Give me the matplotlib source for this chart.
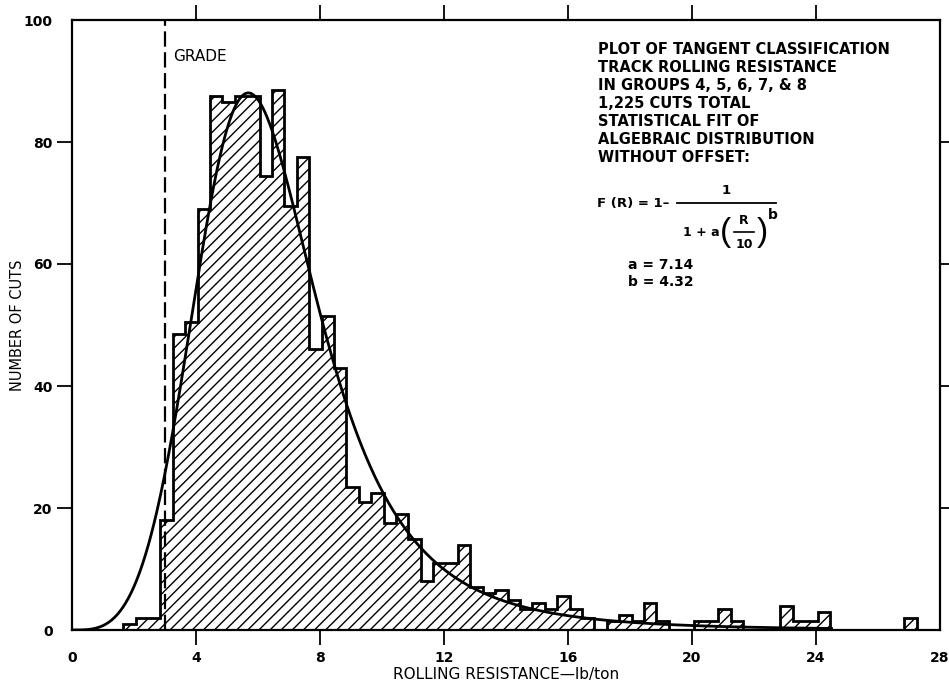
import numpy as np
import matplotlib
matplotlib.use("Agg")
import matplotlib.pyplot as plt
from matplotlib.lines import Line2D

# ---------------- data ----------------
FIRST_EDGE = 1.65      # left edge of first bin (lb/ton)
BIN_WIDTH = 0.4        # bin width (lb/ton)
counts = [1, 2, 2, 18, 48.5, 50.5, 69, 87.5, 86.5, 87.5,
          87.5, 74.5, 88.5, 69.5, 77.5, 46, 51.5, 43, 23.5, 21,
          22.5, 17.5, 19, 15, 8, 11, 11, 14, 7, 6,
          6.5, 5, 3.5, 4.5, 3.5, 5.5, 3.5, 2, 0, 1.5,
          2.5, 1.5, 4.5, 1.5, 0, 0, 1.5, 1.5, 3.5, 1.5,
          0, 0, 0, 4, 1.5, 1.5, 3, 0, 0, 0,
          0, 0, 0, 2]
x_ticks = [0, 4, 8, 12, 16, 20, 24, 28]
y_ticks = [0, 20, 40, 60, 80, 100]
GRADE_X = 3.0
A_PARAM = 7.14
B_PARAM = 4.32
N_CUTS = 1225
CURVE_END = 24.5
note_lines = ["PLOT OF TANGENT CLASSIFICATION",
              "TRACK ROLLING RESISTANCE",
              "IN GROUPS 4, 5, 6, 7, & 8",
              "1,225 CUTS TOTAL",
              "STATISTICAL FIT OF",
              "ALGEBRAIC DISTRIBUTION",
              "WITHOUT OFFSET:"]

# ---------------- style ----------------
plt.rcParams['font.family'] = ['DejaVu Sans']
plt.rcParams['hatch.linewidth'] = 1.0
plt.rcParams['lines.scale_dashes'] = False

W, H = 949, 687
fig = plt.figure(figsize=(W / 100, H / 100), dpi=100)


def fx(px):
    return px / W


def fy(py):
    return 1 - py / H


ax = fig.add_axes([fx(72), fy(630), (940 - 72) / W, (630 - 20) / H])

edges = FIRST_EDGE + BIN_WIDTH * np.arange(len(counts) + 1)
ax.stairs(counts, edges, fill=True, hatch='///', facecolor='white',
          edgecolor='black', linewidth=0, baseline=0, zorder=1)
ax.stairs(counts, edges, fill=False, color='black', linewidth=2.0,
          baseline=0, zorder=3)

# fitted algebraic distribution (formula printed on the chart)
r = np.linspace(0.01, CURVE_END, 800)
u = r / 10.0
pdf = A_PARAM * B_PARAM * u ** (B_PARAM - 1) / 10.0 / (1 + A_PARAM * u ** B_PARAM) ** 2
ax.plot(r, N_CUTS * BIN_WIDTH * pdf, color='black', lw=2.0, zorder=4)

# grade line
ax.plot([GRADE_X, GRADE_X], [0, 100], color='black', lw=1.6,
        dashes=(11, 4), zorder=5, clip_on=False)
ax.text(GRADE_X + 0.27, 94, "GRADE", fontsize=11, va='center', ha='left')

ax.set_xlim(0, 28)
ax.set_ylim(0, 100)
ax.set_xticks(x_ticks)
ax.set_yticks(y_ticks)
ax.tick_params(direction='out', length=11, width=1.3, top=True, right=True,
               labeltop=False, labelright=False, labelsize=10)
ax.tick_params(axis='x', pad=4)
ax.tick_params(axis='y', pad=3)
for lbl in ax.get_xticklabels() + ax.get_yticklabels():
    lbl.set_fontweight('bold')
for tick in (ax.xaxis.get_major_ticks()[0], ax.xaxis.get_major_ticks()[-1],
             ax.yaxis.get_major_ticks()[0], ax.yaxis.get_major_ticks()[-1]):
    tick.tick1line.set_visible(False)
    tick.tick2line.set_visible(False)
for s in ax.spines.values():
    s.set_linewidth(1.6)

fig.text(fx(506), fy(675), "ROLLING RESISTANCE\u2014lb/ton", fontsize=11,
         ha='center', va='center')
fig.text(fx(18), fy(325), "NUMBER OF CUTS", fontsize=10.5, rotation=90,
         ha='center', va='center')

# annotation block
note_y = [49, 67, 85, 103, 122, 140, 158]
for line, yy in zip(note_lines, note_y):
    fig.text(fx(598), fy(yy), line, fontsize=10.5, fontweight='bold',
             ha='left', va='center')

# formula
bold = dict(fontweight='bold', va='center')
fig.text(fx(597), fy(203), "F (R) = 1\u2013", fontsize=9.5, ha='left', **bold)
fig.add_artist(Line2D([fx(677), fx(776)], [fy(203), fy(203)], color='black', lw=1.3))
fig.text(fx(726), fy(190), "1", fontsize=9.5, ha='center', **bold)
fig.text(fx(683), fy(233), "1 + a", fontsize=9, ha='left', **bold)
fig.text(fx(726), fy(232), "(", fontsize=24, ha='center', va='center',
         family=['Liberation Sans', 'DejaVu Sans'])
fig.text(fx(762), fy(232), ")", fontsize=24, ha='center', va='center',
         family=['Liberation Sans', 'DejaVu Sans'])
fig.text(fx(744), fy(220), "R", fontsize=9, ha='center', **bold)
fig.add_artist(Line2D([fx(734), fx(754)], [fy(232), fy(232)], color='black', lw=1.2))
fig.text(fx(744), fy(245), "10", fontsize=9, ha='center', **bold)
fig.text(fx(768), fy(215), "b", fontsize=10, ha='left', **bold)
fig.text(fx(628), fy(265), "a = 7.14", fontsize=10, ha='left', **bold)
fig.text(fx(628), fy(282), "b = 4.32", fontsize=10, ha='left', **bold)

fig.savefig("out.png", dpi=100)
